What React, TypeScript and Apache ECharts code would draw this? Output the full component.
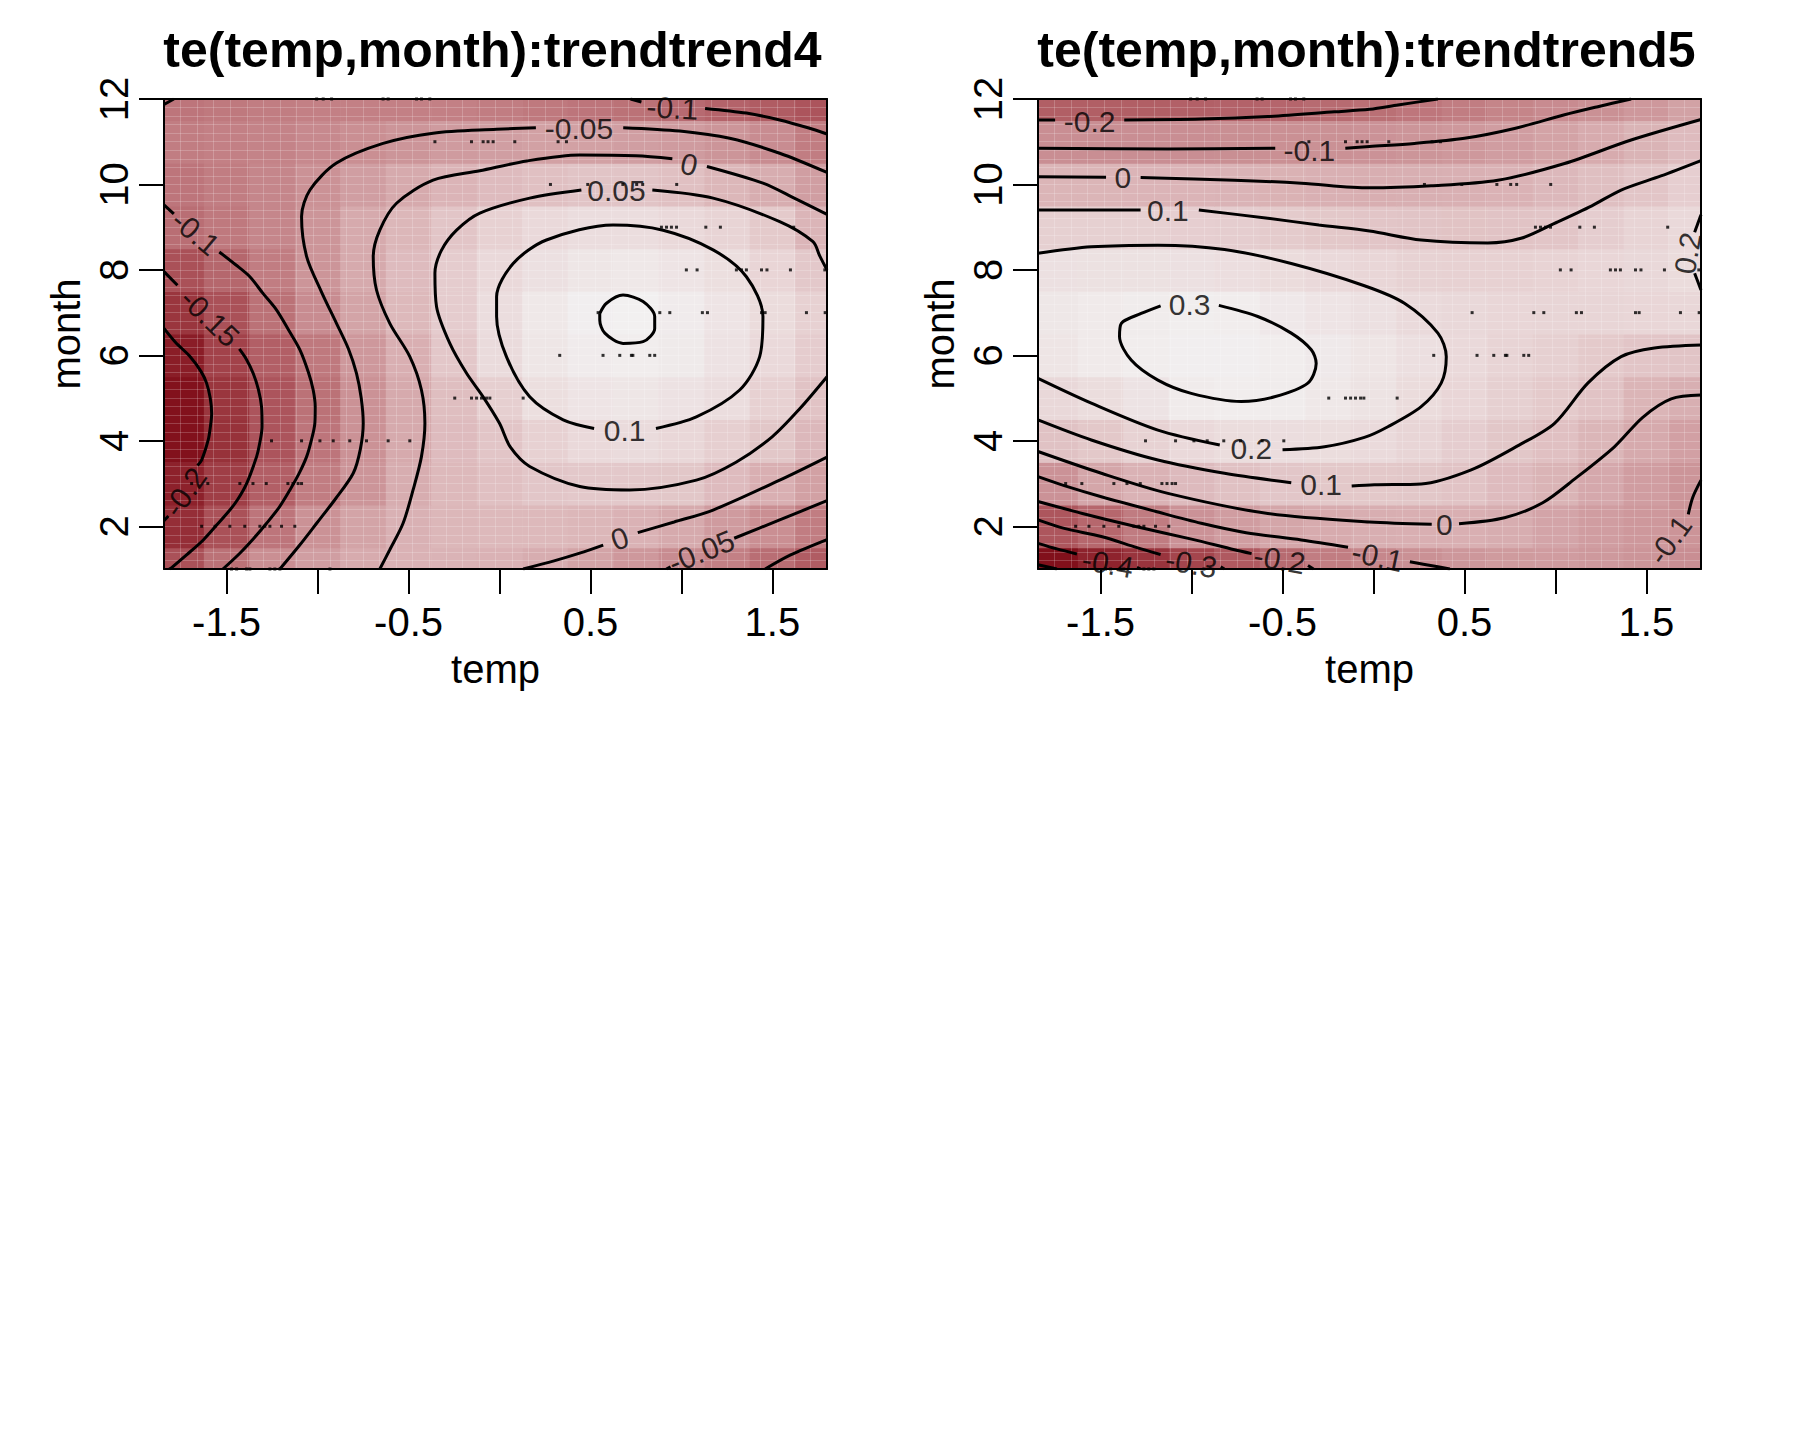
import { useEffect, useRef } from 'react';
import * as echarts from 'echarts';

const FONT = '"Liberation Sans", Arial, Helvetica, sans-serif';

// ---------- axes ----------
const TEMP_RANGE = [-1.844, 1.8];
const MONTH_RANGE = [1, 12];
const TEMP_TICKS = [-1.5, -1, -0.5, 0, 0.5, 1, 1.5];
const TEMP_TICK_LABELS = [-1.5, -0.5, 0.5, 1.5];
const MONTH_TICKS = [2, 4, 6, 8, 10, 12];
const TITLES = ['te(temp,month):trendtrend4', 'te(temp,month):trendtrend5'];

// ---------- fitted surface, read on a coarse grid ----------
const GRID_TEMPS = [-1.75, -1.5, -1.25, -1, -0.75, -0.5, -0.25, 0, 0.25, 0.5, 0.75, 1, 1.25, 1.5, 1.75];
const GRID_MONTHS = [1, 2, 3, 4, 5, 6, 7, 8, 9, 10, 11, 12];

const FIT4 = [
  [-0.145, -0.10, -0.055, -0.03, -0.008, 0.005, 0.008, 0.005, -0.005, -0.02, -0.04, -0.06, -0.08, -0.105, -0.13],
  [-0.19, -0.145, -0.095, -0.05, -0.02, 0.003, 0.015, 0.02, 0.02, 0.015, 0.005, -0.01, -0.035, -0.055, -0.085],
  [-0.205, -0.17, -0.125, -0.085, -0.045, -0.005, 0.02, 0.035, 0.047, 0.052, 0.052, 0.048, 0.025, 0.0, -0.025],
  [-0.225, -0.185, -0.14, -0.095, -0.05, -0.01, 0.025, 0.045, 0.07, 0.09, 0.095, 0.085, 0.065, 0.048, 0.018],
  [-0.225, -0.18, -0.14, -0.10, -0.05, -0.01, 0.03, 0.065, 0.105, 0.12, 0.125, 0.115, 0.10, 0.07, 0.04],
  [-0.21, -0.165, -0.125, -0.09, -0.04, 0.0, 0.05, 0.095, 0.125, 0.14, 0.145, 0.135, 0.115, 0.09, 0.06],
  [-0.18, -0.145, -0.10, -0.06, -0.02, 0.02, 0.06, 0.10, 0.13, 0.148, 0.153, 0.14, 0.12, 0.097, 0.07],
  [-0.145, -0.115, -0.085, -0.045, -0.01, 0.025, 0.06, 0.09, 0.11, 0.125, 0.13, 0.12, 0.105, 0.08, 0.052],
  [-0.105, -0.09, -0.07, -0.045, -0.01, 0.015, 0.045, 0.07, 0.09, 0.10, 0.10, 0.09, 0.075, 0.055, 0.012],
  [-0.095, -0.085, -0.07, -0.05, -0.03, -0.01, 0.01, 0.025, 0.035, 0.042, 0.042, 0.035, 0.015, -0.005, -0.03],
  [-0.085, -0.08, -0.075, -0.065, -0.055, -0.045, -0.035, -0.03, -0.025, -0.025, -0.03, -0.035, -0.045, -0.06, -0.085],
  [-0.095, -0.09, -0.085, -0.08, -0.08, -0.08, -0.08, -0.085, -0.09, -0.095, -0.10, -0.11, -0.12, -0.13, -0.14],
];

const FIT5 = [
  [-0.49, -0.44, -0.395, -0.35, -0.29, -0.24, -0.185, -0.15, -0.115, -0.095, -0.08, -0.075, -0.085, -0.10, -0.125],
  [-0.30, -0.25, -0.19, -0.11, -0.07, -0.04, -0.02, -0.008, -0.004, -0.004, -0.015, -0.045, -0.07, -0.088, -0.105],
  [-0.11, -0.04, 0.01, 0.045, 0.075, 0.098, 0.105, 0.105, 0.10, 0.085, 0.05, 0.015, -0.03, -0.07, -0.10],
  [0.08, 0.105, 0.15, 0.19, 0.21, 0.215, 0.21, 0.195, 0.165, 0.13, 0.10, 0.07, 0.025, -0.025, -0.06],
  [0.185, 0.21, 0.25, 0.295, 0.305, 0.298, 0.275, 0.245, 0.205, 0.17, 0.14, 0.115, 0.085, 0.02, -0.005],
  [0.26, 0.29, 0.305, 0.315, 0.315, 0.305, 0.285, 0.26, 0.225, 0.19, 0.16, 0.14, 0.115, 0.095, 0.088],
  [0.27, 0.29, 0.30, 0.31, 0.305, 0.28, 0.255, 0.23, 0.195, 0.185, 0.17, 0.165, 0.165, 0.17, 0.18],
  [0.23, 0.235, 0.235, 0.23, 0.22, 0.205, 0.19, 0.17, 0.15, 0.145, 0.145, 0.155, 0.17, 0.185, 0.205],
  [0.14, 0.14, 0.14, 0.135, 0.13, 0.118, 0.105, 0.093, 0.087, 0.082, 0.083, 0.095, 0.13, 0.16, 0.19],
  [0.02, 0.02, 0.019, 0.017, 0.012, 0.006, 0.0, -0.008, -0.006, 0.0, 0.01, 0.035, 0.065, 0.095, 0.135],
  [-0.125, -0.125, -0.125, -0.125, -0.123, -0.12, -0.115, -0.11, -0.10, -0.088, -0.07, -0.05, -0.02, 0.015, 0.05],
  [-0.275, -0.275, -0.275, -0.27, -0.265, -0.255, -0.24, -0.225, -0.205, -0.185, -0.16, -0.135, -0.115, -0.09, -0.055],
];

const FIT4_RANGE = [-0.24, 0.155];
const FIT5_RANGE = [-0.52, 0.33];
const PALETTE = ['#7A0510', '#A4454D', '#C27F84', '#D8AEB1', '#E8D4D5', '#F2F1F1'];

// ---------- contour lines of trend4 (temp, month) ----------
const T4_M020_A = [[-1.844, 6.63], [-1.78, 6.3], [-1.7, 5.97], [-1.64, 5.62], [-1.61, 5.35], [-1.59, 5.0], [-1.582, 4.64], [-1.59, 4.3], [-1.601, 4.02], [-1.637, 3.55], [-1.66, 3.42]];
const T4_M020_B = [[-1.82, 2.24], [-1.844, 2.13]];
const T4_M015_A = [[-1.844, 7.96], [-1.77, 7.64]];
const T4_M015_B = [[-1.43, 6.15], [-1.39, 5.9], [-1.354, 5.58], [-1.325, 5.2], [-1.308, 4.8], [-1.305, 4.33], [-1.32, 3.9], [-1.335, 3.63], [-1.39, 3.0], [-1.44, 2.62], [-1.482, 2.38], [-1.56, 2.0], [-1.628, 1.68], [-1.72, 1.33], [-1.8, 1.04], [-1.815, 1.0]];
const T4_M010_A = [[-1.844, 9.52], [-1.79, 9.31]];
const T4_M010_B = [[-1.54, 8.42], [-1.45, 8.12], [-1.372, 7.84], [-1.3, 7.45], [-1.225, 7.06], [-1.16, 6.6], [-1.097, 6.13], [-1.05, 5.6], [-1.024, 5.19], [-1.013, 4.8], [-1.015, 4.41], [-1.035, 4.0], [-1.06, 3.63], [-1.1, 3.25], [-1.152, 2.85], [-1.21, 2.45], [-1.28, 2.07], [-1.35, 1.72], [-1.427, 1.37], [-1.52, 1.0]];
const T4_M010_C = [[-1.844, 11.87], [-1.79, 12.0]];
const T4_M010_D = [[0.72, 12.0], [0.78, 11.93]];
const T4_M010_E = [[1.13, 11.78], [1.357, 11.67], [1.54, 11.51], [1.7, 11.32], [1.8, 11.18]];
const T4_M010_F = [[1.46, 1.0], [1.6, 1.33], [1.8, 1.69]];
const T4_M005_A = [[-1.207, 1.0], [-1.1, 1.55], [-1.005, 2.07], [-0.9, 2.65], [-0.804, 3.24], [-0.765, 3.8], [-0.749, 4.41], [-0.76, 5.0], [-0.786, 5.58], [-0.83, 6.15], [-0.896, 6.75], [-0.98, 7.5], [-1.06, 8.31], [-1.088, 9.25], [-1.042, 9.87], [-0.896, 10.5], [-0.64, 10.96], [-0.365, 11.2], [-0.016, 11.29], [0.2, 11.33]];
const T4_M005_B = [[0.68, 11.33], [0.991, 11.25], [1.265, 11.08], [1.54, 10.73], [1.8, 10.28]];
const T4_M005_C = [[0.917, 1.0], [0.94, 1.05]];
const T4_M005_D = [[1.29, 1.72], [1.54, 2.15], [1.8, 2.6]];
const T4_0_A = [[-0.658, 1.0], [-0.603, 1.45], [-0.53, 2.07], [-0.475, 2.85], [-0.429, 3.63], [-0.41, 4.41], [-0.429, 5.19], [-0.493, 5.97], [-0.603, 6.75], [-0.676, 7.53], [-0.694, 8.31], [-0.658, 8.93], [-0.566, 9.56], [-0.365, 10.1], [-0.108, 10.32], [0.15, 10.55], [0.441, 10.69], [0.75, 10.67], [0.95, 10.6]];
const T4_0_B = [[1.14, 10.42], [1.448, 10.03], [1.62, 9.68], [1.8, 9.3]];
const T4_0_C = [[0.13, 1.0], [0.3, 1.19], [0.441, 1.37], [0.57, 1.56]];
const T4_0_D = [[0.76, 1.85], [0.96, 2.1], [1.174, 2.38], [1.54, 3.08], [1.8, 3.62]];
const T4_005_A = [[1.8, 8.0], [1.76, 8.33], [1.723, 8.66], [1.54, 9.13], [1.174, 9.68], [0.84, 9.87]];
const T4_005_B = [[0.45, 9.87], [0.166, 9.68], [-0.108, 9.33], [-0.236, 8.93], [-0.32, 8.45], [-0.355, 7.92], [-0.346, 7.14], [-0.273, 6.28], [-0.181, 5.58], [-0.09, 5.03], [0.0, 4.41], [0.06, 3.85], [0.166, 3.4], [0.441, 2.93], [0.716, 2.85], [1.082, 3.08], [1.3, 3.5], [1.5, 4.1], [1.65, 4.75], [1.8, 5.5]];
const T4_010 = [[0.86, 4.29], [1.082, 4.56], [1.32, 5.19], [1.43, 5.97], [1.448, 6.91], [1.357, 7.84], [1.174, 8.47], [0.899, 8.93], [0.624, 9.05], [0.258, 8.7], [0.075, 8.15], [-0.016, 7.37], [-0.016, 6.91], [0.038, 5.97], [0.166, 5.03], [0.35, 4.49], [0.52, 4.29]];
const T4_015 = [[0.551, 6.98], [0.588, 7.22], [0.679, 7.41], [0.789, 7.26], [0.853, 6.91], [0.853, 6.63], [0.789, 6.32], [0.679, 6.28], [0.579, 6.52], [0.551, 6.83], [0.551, 6.98]];

const T4_LINES = [T4_M020_A, T4_M020_B, T4_M015_A, T4_M015_B, T4_M010_A, T4_M010_B, T4_M010_C, T4_M010_D, T4_M010_E, T4_M010_F,
  T4_M005_A, T4_M005_B, T4_M005_C, T4_M005_D, T4_0_A, T4_0_B, T4_0_C, T4_0_D, T4_005_A, T4_005_B, T4_010, T4_015];

const T4_LABEL_TEXT = ['-0.1', '-0.15', '-0.2', '-0.05', '-0.1', '0', '0.05', '0.1', '0', '-0.05'];
const T4_LABEL_AT = [[-1.67, 8.87], [-1.592, 6.88], [-1.729, 2.8], [0.437, 11.31], [0.95, 11.79], [1.042, 10.47], [0.643, 9.86], [0.688, 4.25], [0.661, 1.71], [1.11, 1.41]];
const T4_LABEL_ANGLE = [-40, -44, 55, 0, -3, -12, 0, 0, 19, 22];

// ---------- contour lines of trend5 ----------
const T5_M050 = [[-1.844, 1.1], [-1.74, 1.0]];
const T5_M040_A = [[-1.844, 1.6], [-1.74, 1.47], [-1.63, 1.35]];
const T5_M040_B = [[-1.3, 1.04], [-1.28, 1.0]];
const T5_M030_A = [[-1.844, 2.15], [-1.7, 1.95], [-1.496, 1.76], [-1.3, 1.5], [-1.17, 1.34]];
const T5_M030_B = [[-0.84, 1.05], [-0.82, 1.0]];
const T5_M020_A = [[-1.844, 2.58], [-1.6, 2.3], [-1.313, 2.0], [-1.0, 1.7], [-0.764, 1.45], [-0.67, 1.36]];
const T5_M020_B = [[-0.36, 1.08], [-0.33, 1.0]];
const T5_M010_A = [[-1.844, 3.16], [-1.7, 2.95], [-1.496, 2.69], [-1.2, 2.35], [-0.947, 2.07], [-0.7, 1.85], [-0.397, 1.68], [-0.14, 1.51]];
const T5_M010_B = [[0.2, 1.17], [0.33, 1.07], [0.42, 1.0]];
const T5_M010_C = [[1.8, 3.08], [1.755, 2.68], [1.73, 2.28]];
const T5_M020_T_A = [[-1.844, 11.51], [-1.75, 11.51]];
const T5_M020_T_B = [[-1.37, 11.51], [-0.947, 11.53], [-0.581, 11.59], [-0.214, 11.7], [-0.022, 11.76], [0.134, 11.86], [0.354, 12.0]];
const T5_M010_T_A = [[-1.844, 10.85], [-1.13, 10.83], [-0.54, 10.85]];
const T5_M010_T_B = [[-0.155, 10.85], [-0.022, 10.89], [0.225, 10.96], [0.5, 11.08], [0.775, 11.31], [1.05, 11.63], [1.233, 11.82], [1.416, 12.0]];
const T5_0_T_A = [[-1.844, 10.18], [-1.47, 10.17]];
const T5_0_T_B = [[-1.28, 10.16], [-0.764, 10.1], [-0.397, 10.03], [-0.022, 9.92], [0.317, 9.97], [0.683, 10.1], [1.05, 10.49], [1.416, 11.04], [1.8, 11.52]];
const T5_010_T_A = [[-1.844, 9.4], [-1.28, 9.4]];
const T5_010_T_B = [[-0.96, 9.4], [-0.581, 9.21], [-0.3, 9.05], [-0.022, 8.91], [0.262, 8.7], [0.628, 8.63], [0.811, 8.74], [0.995, 9.09], [1.2, 9.5], [1.361, 9.87], [1.58, 10.2], [1.8, 10.56]];
const T5_020_A = [[-1.844, 8.39], [-1.551, 8.54], [-1.185, 8.58], [-0.819, 8.48], [-0.452, 8.15], [-0.05, 7.63], [0.17, 7.22], [0.354, 6.52], [0.4, 5.97], [0.372, 5.35], [0.262, 4.8], [0.079, 4.33], [-0.05, 4.08], [-0.269, 3.86], [-0.5, 3.79]];
const T5_020_B = [[-0.845, 3.9], [-1.185, 4.25], [-1.551, 4.88], [-1.844, 5.46]];
const T5_020_R_A = [[1.8, 9.29], [1.765, 8.88]];
const T5_020_R_B = [[1.765, 7.92], [1.8, 7.53]];
const T5_030 = [[-0.85, 7.17], [-0.636, 6.91], [-0.452, 6.52], [-0.342, 6.13], [-0.315, 5.81], [-0.361, 5.35], [-0.544, 5.03], [-0.727, 4.92], [-1.002, 5.11], [-1.185, 5.42], [-1.332, 5.89], [-1.396, 6.44], [-1.386, 6.75], [-1.277, 6.98], [-1.17, 7.16]];
const T5_010_L_A = [[-1.844, 4.49], [-1.551, 4.02], [-1.185, 3.55], [-0.819, 3.24], [-0.452, 3.02]];
const T5_010_L_B = [[-0.12, 2.94], [0.005, 2.97], [0.262, 2.99], [0.537, 3.32], [0.8, 3.9], [0.995, 4.41], [1.178, 5.35], [1.361, 5.97], [1.544, 6.17], [1.8, 6.24]];
const T5_0_L_A = [[-1.844, 3.75], [-1.496, 3.24], [-1.13, 2.77], [-0.581, 2.3], [-0.022, 2.1], [0.32, 2.05]];
const T5_0_L_B = [[0.47, 2.06], [0.72, 2.2], [0.93, 2.55], [1.11, 3.12], [1.324, 3.86], [1.48, 4.55], [1.636, 4.98], [1.8, 5.07]];

const T5_LINES = [T5_M050, T5_M040_A, T5_M040_B, T5_M030_A, T5_M030_B, T5_M020_A, T5_M020_B, T5_M010_A, T5_M010_B, T5_M010_C,
  T5_M020_T_A, T5_M020_T_B, T5_M010_T_A, T5_M010_T_B, T5_0_T_A, T5_0_T_B, T5_010_T_A, T5_010_T_B, T5_020_A, T5_020_B,
  T5_020_R_A, T5_020_R_B, T5_030, T5_010_L_A, T5_010_L_B, T5_0_L_A, T5_0_L_B];

const T5_LABEL_TEXT = ['-0.2', '-0.1', '0', '0.1', '0.3', '0.2', '0.1', '0', '-0.1', '-0.2', '-0.3', '-0.4', '0.2', '-0.1'];
const T5_LABEL_AT = [[-1.56, 11.47], [-0.352, 10.8], [-1.377, 10.17], [-1.13, 9.4], [-1.011, 7.18], [-0.672, 3.83], [-0.288, 2.97], [0.39, 2.03], [0.022, 1.29], [-0.516, 1.22], [-1.002, 1.13], [-1.46, 1.13], [1.727, 8.39], [1.629, 1.68]];
const T5_LABEL_ANGLE = [0, 0, 0, 0, 0, 0, 0, 0, -12, -10, -10, -10, 80, 54];

// ---------- observation locations (temp values per month 1..12) ----------
const DOT_TEMPS = [
  [-1.473, -1.445, -1.39, -1.372, -1.262, -1.235, -1.207, -0.932],
  [-1.637, -1.564, -1.482, -1.4, -1.317, -1.29, -1.262, -1.198, -1.125],
  [-1.692, -1.603, -1.427, -1.355, -1.282, -1.163, -1.135, -1.107, -1.088],
  [-1.253, -1.088, -0.987, -0.914, -0.823, -0.731, -0.612, -0.493],
  [-0.246, -0.154, -0.126, -0.099, -0.071, -0.053, 0.13],
  [0.331, 0.569, 0.661, 0.725, 0.733, 0.826, 0.853],
  [0.542, 0.881, 0.936, 1.115, 1.143, 1.44, 1.46, 1.687, 1.79],
  [1.027, 1.086, 1.302, 1.33, 1.357, 1.44, 1.47, 1.599, 1.788],
  [0.89, 0.918, 0.945, 0.973, 1.134, 1.214, 1.617],
  [0.28, 0.485, 0.678, 0.754, 0.787, 0.974],
  [-0.355, -0.154, -0.09, -0.063, -0.035, 0.084, 0.322, 0.368],
  [-1.005, -0.969, -0.923, -0.64, -0.612, -0.456, -0.429, -0.383],
];

// ---------- layout ----------
const GRIDS = [
  { left: 164, top: 99, width: 663, height: 470 },
  { left: 1038, top: 99, width: 663, height: 470 },
];
const CELL_W = 0.25;
const CELL_H = 1;

function gridData(fit: number[][]) {
  const out: number[][] = [];
  GRID_MONTHS.forEach((m, r) => GRID_TEMPS.forEach((t, c) => out.push([t, m, fit[r][c]])));
  return out;
}

function dotData() {
  const out: number[][] = [];
  DOT_TEMPS.forEach((row, r) => row.forEach((t) => out.push([t, GRID_MONTHS[r]])));
  return out;
}

function buildOption() {
  const xAxis: any[] = [];
  const yAxis: any[] = [];
  const series: any[] = [];
  const visualMap: any[] = [];
  const graphic: any[] = [];
  const panels = [
    { fit: FIT4, range: FIT4_RANGE, lines: T4_LINES, text: T4_LABEL_TEXT, at: T4_LABEL_AT, ang: T4_LABEL_ANGLE },
    { fit: FIT5, range: FIT5_RANGE, lines: T5_LINES, text: T5_LABEL_TEXT, at: T5_LABEL_AT, ang: T5_LABEL_ANGLE },
  ];
  const black = { color: '#000', width: 2 };
  panels.forEach((p, i) => {
    const xi = xAxis.length;
    const yi = yAxis.length;
    xAxis.push({
      gridIndex: i, type: 'value', min: TEMP_RANGE[0], max: TEMP_RANGE[1], position: 'bottom', z: 10,
      axisLine: { show: true, onZero: false, lineStyle: black },
      axisTick: { show: true, inside: false, length: 25, lineStyle: black, customValues: TEMP_TICKS },
      axisLabel: { show: true, customValues: TEMP_TICK_LABELS, margin: 33, fontSize: 40, color: '#000', fontFamily: FONT, formatter: (v: number) => String(v) },
      splitLine: { show: false },
      name: 'temp', nameLocation: 'middle', nameGap: 80,
      nameTextStyle: { fontSize: 40, color: '#000', fontFamily: FONT },
    });
    xAxis.push({
      gridIndex: i, type: 'value', min: 0, max: 40, interval: 1, position: 'top', z: 3,
      axisLine: { show: true, onZero: false, lineStyle: black },
      axisTick: { show: false }, axisLabel: { show: false },
      splitLine: { show: true, lineStyle: { color: 'rgba(255,255,255,0.2)', width: 1 } },
    });
    yAxis.push({
      gridIndex: i, type: 'value', min: MONTH_RANGE[0], max: MONTH_RANGE[1], position: 'left', z: 10,
      axisLine: { show: true, onZero: false, lineStyle: black },
      axisTick: { show: true, inside: false, length: 25, lineStyle: black, customValues: MONTH_TICKS },
      axisLabel: { show: true, customValues: MONTH_TICKS, rotate: 90, margin: 30, fontSize: 40, color: '#000', fontFamily: FONT },
      splitLine: { show: false },
      name: 'month', nameLocation: 'middle', nameRotate: 90, nameGap: 78,
      nameTextStyle: { fontSize: 40, color: '#000', fontFamily: FONT },
    });
    yAxis.push({
      gridIndex: i, type: 'value', min: 0, max: 55, interval: 1, position: 'right', z: 3,
      axisLine: { show: true, onZero: false, lineStyle: black },
      axisTick: { show: false }, axisLabel: { show: false },
      splitLine: { show: true, lineStyle: { color: 'rgba(255,255,255,0.2)', width: 1 } },
    });

    visualMap.push({
      type: 'continuous', show: false, seriesIndex: series.length, dimension: 2,
      min: p.range[0], max: p.range[1], inRange: { color: PALETTE },
    });
    series.push({
      type: 'custom', xAxisIndex: xi, yAxisIndex: yi, data: gridData(p.fit), silent: true, z: 1,
      encode: { x: 0, y: 1 },
      renderItem: (_params: any, api: any) => {
        const t = api.value(0) as number;
        const m = api.value(1) as number;
        const xa = Math.max(t - CELL_W / 2, TEMP_RANGE[0]);
        const xb = Math.min(t + CELL_W / 2, TEMP_RANGE[1]);
        const ya = Math.max(m - CELL_H / 2, MONTH_RANGE[0]);
        const yb = Math.min(m + CELL_H / 2, MONTH_RANGE[1]);
        const p0 = api.coord([xa, yb]);
        const p1 = api.coord([xb, ya]);
        return {
          type: 'rect',
          shape: { x: p0[0], y: p0[1], width: p1[0] - p0[0] + 0.6, height: p1[1] - p0[1] + 0.6 },
          style: { fill: api.visual('color') },
        };
      },
    });
    p.lines.forEach((seg) => {
      series.push({
        type: 'line', xAxisIndex: xi, yAxisIndex: yi, data: seg, symbol: 'none', showSymbol: false,
        smooth: 0.3, silent: true, z: 4, clip: true,
        lineStyle: { color: '#000', width: 3 },
      });
    });
    series.push({
      type: 'scatter', xAxisIndex: xi, yAxisIndex: yi, data: dotData(), symbol: 'rect', symbolSize: 3,
      itemStyle: { color: '#000' }, silent: true, z: 5,
    });
    series.push({
      type: 'scatter', xAxisIndex: xi, yAxisIndex: yi, silent: true, z: 6, clip: false,
      symbolSize: 1, itemStyle: { color: 'rgba(0,0,0,0)' },
      data: p.text.map((txt, k) => ({ name: txt, value: p.at[k], label: { rotate: p.ang[k] } })),
      label: { show: true, position: 'inside', formatter: '{b}', fontSize: 30, fontFamily: FONT, color: '#000' },
    });

    const g = GRIDS[i];
    graphic.push({
      type: 'text', x: g.left + g.width / 2 - 3, y: 50, z: 20,
      style: {
        text: TITLES[i], fill: '#000', font: `bold 50px ${FONT}`,
        align: 'center', verticalAlign: 'middle', textAlign: 'center', textVerticalAlign: 'middle',
      },
    });
  });

  return {
    animation: false,
    backgroundColor: '#ffffff',
    grid: GRIDS.map((g) => ({ ...g, containLabel: false })),
    xAxis, yAxis, visualMap, series, graphic,
  };
}

export default function App() {
  const ref = useRef<HTMLDivElement>(null);
  useEffect(() => {
    if (!ref.current) return;
    const chart = echarts.init(ref.current, null, { renderer: 'svg' });
    chart.setOption(buildOption() as any);
    return () => chart.dispose();
  }, []);
  return (
    <div
      ref={ref}
      style={{ position: 'absolute', left: 0, top: 0, width: 1800, height: 1440, background: '#fff' }}
    />
  );
}
